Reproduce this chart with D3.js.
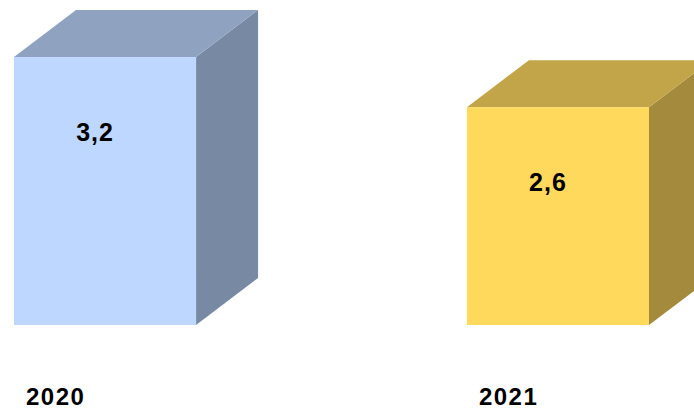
<!DOCTYPE html>
<html>
<head>
<meta charset="utf-8">
<script src="https://cdn.jsdelivr.net/npm/d3@7"></script>
<style>
  body { margin: 0; background: #fff; }
  svg { display: block; }
</style>
</head>
<body>
<div id="chart"></div>
<script>
// data
const years = ["2020", "2021"];
const values = [3.2, 2.6];
const valueLabels = ["3,2", "2,6"];

// colours per bar: front, top, side
const frontColors = ["#bdd7fe", "#fed95b"];
const topColors = ["#8fa3c0", "#c2a548"];
const sideColors = ["#7889a3", "#a38a3c"];

const width = 694;
const height = 411;
const depth = {dx: 62, dy: 47}; // 3d offset of the boxes

const svg = d3.select("#chart")
  .append("svg")
  .attr("width", width)
  .attr("height", height);

// scales
const xScale = d3.scaleBand()
  .domain(years)
  .range([14, 649])
  .paddingInner(0.598)
  .paddingOuter(0);

const yScale = d3.scaleLinear()
  .domain([0, 3.2])
  .range([325, 57]);

const data = years.map((y, i) => ({year: y, value: values[i], label: valueLabels[i], i: i}));
const bw = xScale.bandwidth();

const bars = svg.selectAll(".bar")
  .data(data)
  .enter()
  .append("g")
  .attr("class", "bar");

// side face
bars.append("polygon")
  .attr("points", d => {
    const x1 = xScale(d.year) + bw, y0 = yScale(0), y1 = yScale(d.value);
    return [[x1, y0], [x1 + depth.dx, y0 - depth.dy], [x1 + depth.dx, y1 - depth.dy], [x1, y1]].join(" ");
  })
  .attr("fill", d => sideColors[d.i]);

// top face
bars.append("polygon")
  .attr("points", d => {
    const x0 = xScale(d.year), x1 = x0 + bw, y1 = yScale(d.value);
    return [[x0, y1], [x1, y1], [x1 + depth.dx, y1 - depth.dy], [x0 + depth.dx, y1 - depth.dy]].join(" ");
  })
  .attr("fill", d => topColors[d.i]);

// front face
bars.append("rect")
  .attr("x", d => xScale(d.year))
  .attr("y", d => yScale(d.value))
  .attr("width", bw)
  .attr("height", d => yScale(0) - yScale(d.value))
  .attr("fill", d => frontColors[d.i]);

// value labels
bars.append("text")
  .attr("x", d => xScale(d.year) + bw / 2 - 10)
  .attr("y", d => yScale(d.value) + 84)
  .attr("text-anchor", "middle")
  .attr("font-family", "'Liberation Sans', Arial, sans-serif")
  .attr("font-weight", "bold")
  .attr("font-size", "25px")
  .attr("letter-spacing", "1px")
  .attr("fill", "#000")
  .text(d => d.label);

// category labels
svg.selectAll(".year")
  .data(years)
  .enter()
  .append("text")
  .attr("class", "year")
  .attr("x", d => xScale(d) + 12)
  .attr("y", 405)
  .attr("font-family", "'Liberation Sans', Arial, sans-serif")
  .attr("font-weight", "bold")
  .attr("font-size", "24px")
  .attr("letter-spacing", "1.5px")
  .attr("fill", "#000")
  .text(d => d);
</script>
</body>
</html>
